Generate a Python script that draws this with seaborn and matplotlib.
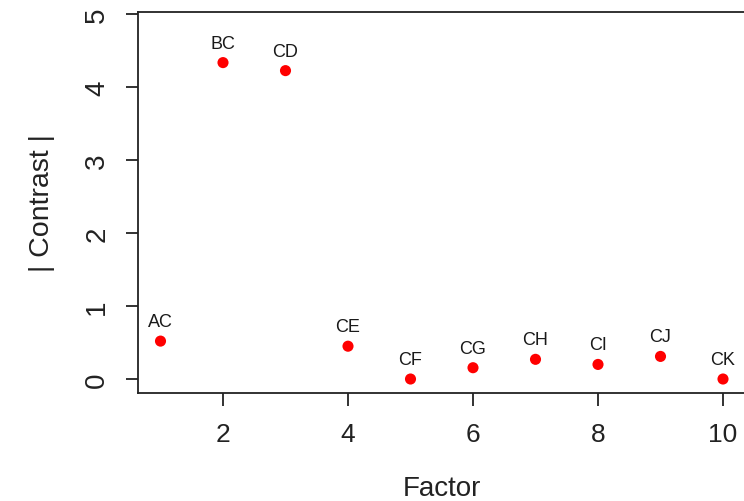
import matplotlib
matplotlib.use("Agg")
import matplotlib.pyplot as plt
import seaborn as sns
import pandas as pd

factor = [1, 2, 3, 4, 5, 6, 7, 8, 9, 10]
contrast = [0.52, 4.34, 4.23, 0.45, 0.0, 0.155, 0.27, 0.20, 0.31, 0.0]
labels = ["AC", "BC", "CD", "CE", "CF", "CG", "CH", "CI", "CJ", "CK"]
xticks = [2, 4, 6, 8, 10]
yticks = [0, 1, 2, 3, 4, 5]

df = pd.DataFrame({"Factor": factor, "Contrast": contrast, "label": labels})

sns.set_style("white")
plt.rcParams["font.family"] = ["Liberation Sans", "DejaVu Sans"]

W, H = 744, 502
fig = plt.figure(figsize=(W / 100, H / 100), dpi=100)
left, right, top, bottom = 138, 745.5, 13.3, 393.5
ax = fig.add_axes([left / W, (H - bottom) / H, (right - left) / W, (bottom - top) / H])

sns.scatterplot(data=df, x="Factor", y="Contrast", ax=ax, color="#ff0000",
                s=64, edgecolor="none", linewidth=0, legend=False, clip_on=False, zorder=3)

for xv, yv, lab in zip(df["Factor"], df["Contrast"], df["label"]):
    ax.annotate(lab, (xv, yv), xytext=(0, 14), textcoords="offset points",
                ha="center", va="center", fontsize=13, color="#1a1a1a")

ax.set_xlim(0.64, 10.36)
ax.set_ylim(-0.185, 5.03)
ax.set_xticks(xticks)
ax.set_yticks(yticks)
ax.set_xticklabels([str(v) for v in xticks], fontsize=19, color="#222222")
ax.set_yticklabels([str(v) for v in yticks], fontsize=20, color="#222222",
                   rotation=90, va="center")
ax.tick_params(axis="both", direction="out", length=9, width=1.3, color="#222222",
               left=True, bottom=True)
ax.tick_params(axis="x", pad=12)
ax.tick_params(axis="y", pad=11)
for sp in ax.spines.values():
    sp.set_visible(True)
    sp.set_color("#222222")
    sp.set_linewidth(1.3)

ax.set_xlabel("Factor", fontsize=20, color="#222222", labelpad=21)
ax.set_ylabel("| Contrast |", fontsize=20.5, color="#222222", labelpad=21)

fig.savefig("out.png", dpi=100)
